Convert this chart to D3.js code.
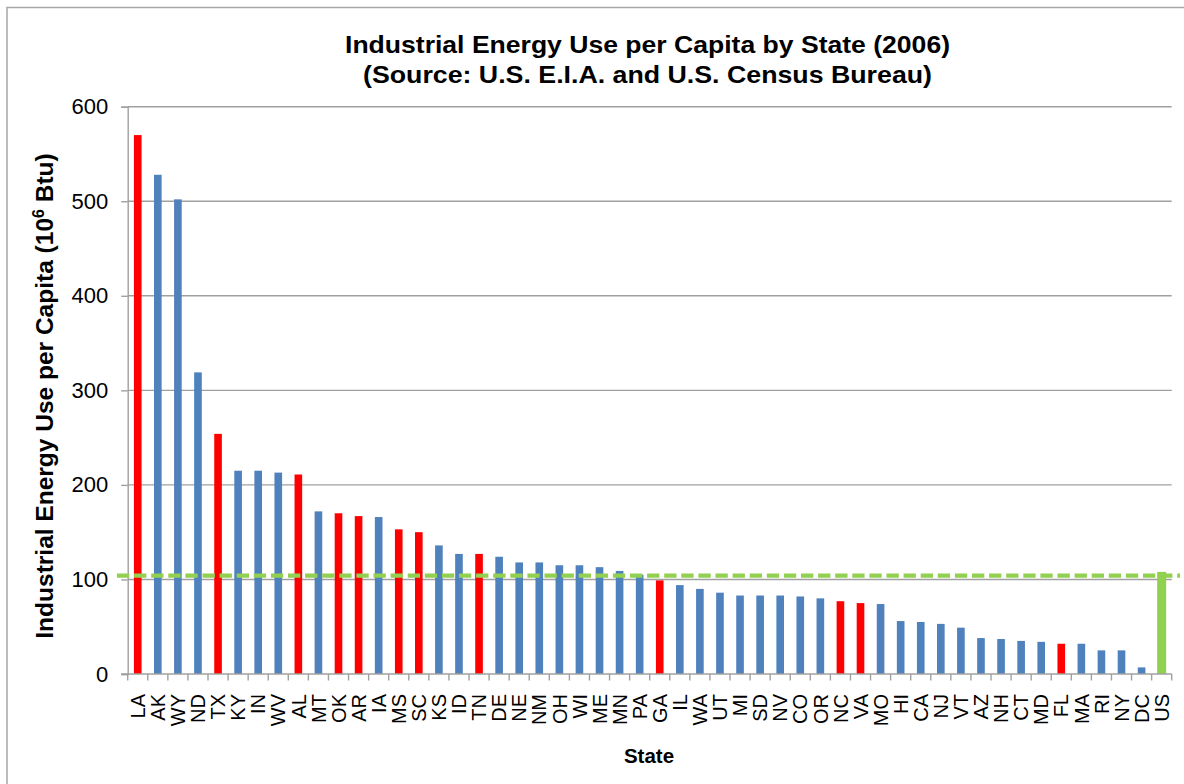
<!DOCTYPE html>
<html>
<head>
<meta charset="utf-8">
<script src="https://cdn.jsdelivr.net/npm/d3@7"></script>
<style>
  html, body { margin: 0; padding: 0; background: #fff; }
  svg { display: block; font-family: "Liberation Sans", Arial, sans-serif; }
</style>
</head>
<body>
<svg id="chart" width="1184" height="784"></svg>
<script>
// ---- data ----
const states = ["LA","AK","WY","ND","TX","KY","IN","WV","AL","MT","OK","AR","IA","MS","SC","KS","ID","TN","DE","NE","NM","OH","WI","ME","MN","PA","GA","IL","WA","UT","MI","SD","NV","CO","OR","NC","VA","MO","HI","CA","NJ","VT","AZ","NH","CT","MD","FL","MA","RI","NY","DC","US"];
const energyPerCapita = [570,528,502,319,254,215,215,213,211,172,170,167,166,153,150,136,127,127,124,118,118,115,115,113,109,105,99,94,90,86,83,83,83,82,80,77,75,74,56,55,53,49,38,37,35,34,32,32,25,25,7,108];
const highlightedStates = ["LA","TX","AL","OK","AR","MS","SC","TN","GA","NC","VA","FL"];
const totalLabel = "US";
const usAverage = 104;
const yTicks = [0,100,200,300,400,500,600];
const titleLines = ["Industrial Energy Use per Capita by State (2006)", "(Source: U.S. E.I.A. and U.S. Census Bureau)"];

(function () {
// ---- layout ----
const svg = d3.select("#chart");
const plotLeft = 127.7, plotRight = 1171.7, plotTop = 106.7, plotBottom = 674;
const gridColor = "#A0A0A0";
const font = "'Liberation Sans', Arial, sans-serif";

const x = d3.scaleBand().domain(states).range([plotLeft, plotRight]).paddingInner(0.62).paddingOuter(0.31);
const y = d3.scaleLinear().domain([0, 600]).range([plotBottom, plotTop]);

// outer border
svg.append("rect").attr("x", 7).attr("y", 7.5).attr("width", 1200).attr("height", 800)
  .attr("fill", "none").attr("stroke", "#A6A6A6").attr("stroke-width", 1.5);

// gridlines
svg.append("g").selectAll("line").data(yTicks.filter(d => d > 0)).join("line")
  .attr("x1", plotLeft).attr("x2", plotRight)
  .attr("y1", d => y(d)).attr("y2", d => y(d))
  .attr("stroke", gridColor).attr("stroke-width", 1.4);

// y axis
const yAxis = svg.append("g").attr("transform", `translate(${plotLeft},0)`)
  .call(d3.axisLeft(y).tickValues(yTicks).tickSize(6.5).tickPadding(13));
yAxis.select(".domain").attr("stroke", gridColor).attr("stroke-width", 1.4);
yAxis.selectAll(".tick line").attr("stroke", gridColor).attr("stroke-width", 1.4);
yAxis.selectAll(".tick text").attr("font-size", "22px").attr("fill", "#000")
  .attr("font-family", font);

// bars
const colorFor = s => s === totalLabel ? "#92D050" : (highlightedStates.includes(s) ? "#FF0000" : "#4F81BD");
svg.append("g").selectAll("rect").data(states).join("rect")
  .attr("x", s => x(s) - (s === totalLabel ? 0.7 : 0))
  .attr("width", s => x.bandwidth() + (s === totalLabel ? 1.4 : 0))
  .attr("y", (s, i) => y(energyPerCapita[i]))
  .attr("height", (s, i) => plotBottom - y(energyPerCapita[i]))
  .attr("fill", colorFor);

// x axis
const xAxis = svg.append("g").attr("transform", `translate(0,${plotBottom})`)
  .call(d3.axisBottom(x).tickSize(0).tickFormat(d => d));
xAxis.select(".domain").remove();
xAxis.append("line").attr("x1", plotLeft - 6.5).attr("x2", plotRight).attr("y1", 0).attr("y2", 0)
  .attr("stroke", gridColor).attr("stroke-width", 1.4);
const boundaries = d3.range(states.length + 1).map(i => plotLeft + i * x.step());
xAxis.selectAll(".bound").data(boundaries).join("line").attr("class", "bound")
  .attr("x1", d => d).attr("x2", d => d).attr("y1", 0).attr("y2", 6.5)
  .attr("stroke", gridColor).attr("stroke-width", 1.4);
xAxis.selectAll(".tick text")
  .attr("font-size", "20px").attr("fill", "#000")
  .attr("font-family", font)
  .attr("text-anchor", "end")
  .attr("transform", "rotate(-90)")
  .attr("x", -20).attr("y", 0).attr("dy", "0.36em");

// average dashed line
svg.append("line")
  .attr("x1", 117).attr("x2", 1180)
  .attr("y1", y(usAverage)).attr("y2", y(usAverage))
  .attr("stroke", "#92D050").attr("stroke-width", 4.3)
  .attr("stroke-dasharray", "12.3 4.8");

// title
svg.append("text").attr("x", 647.5).attr("y", 53).attr("text-anchor", "middle")
  .attr("font-size", "24px").attr("font-weight", "bold").attr("fill", "#000")
  .attr("textLength", 605).attr("lengthAdjust", "spacingAndGlyphs")
  .text(titleLines[0]);
svg.append("text").attr("x", 647.5).attr("y", 83).attr("text-anchor", "middle")
  .attr("font-size", "24px").attr("font-weight", "bold").attr("fill", "#000")
  .attr("textLength", 569).attr("lengthAdjust", "spacingAndGlyphs")
  .text(titleLines[1]);

// axis titles
svg.append("text").attr("x", 649).attr("y", 763).attr("text-anchor", "middle")
  .attr("font-size", "20.5px").attr("font-weight", "bold").attr("fill", "#000")
  .text("State");

const yt = svg.append("text").attr("transform", "translate(52.5,396) rotate(-90)")
  .attr("text-anchor", "middle").attr("font-size", "24.5px").attr("font-weight", "bold").attr("fill", "#000");
yt.append("tspan").text("Industrial Energy Use per Capita (10");
yt.append("tspan").attr("font-size", "16px").attr("dy", "-9").text("6");
yt.append("tspan").attr("dy", "9").text(" Btu)");
})();
</script>
</body>
</html>
